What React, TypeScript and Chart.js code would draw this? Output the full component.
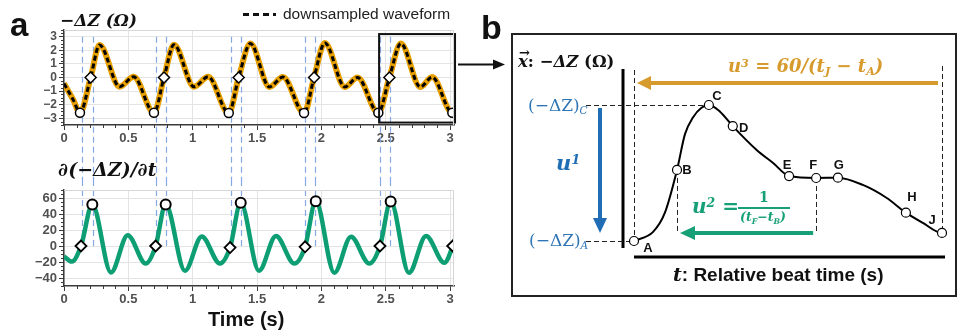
import React, { useEffect, useRef } from 'react';
import { Chart, registerables } from 'chart.js';

Chart.register(...registerables);

// ---------------- data ----------------
const timeTicks = [0, 0.5, 1, 1.5, 2, 2.5, 3];
const zTicks = [-3, -2, -1, 0, 1, 2, 3];
const dzTicks = [-40, -20, 0, 20, 40, 60];

// -ΔZ waveform (Ω)
const zTime = [0, 0.072, 0.124, 0.207, 0.276, 0.432, 0.541, 0.699, 0.777, 0.854, 1.01, 1.12, 1.28, 1.357, 1.448, 1.596, 1.7, 1.865, 1.943, 2.026, 2.182, 2.28, 2.442, 2.528, 2.617, 2.768, 2.86, 3.017, 3.08];
const zValue = [-0.45, -1.65, -2.6, 0, 2.4, -0.68, 0.05, -2.6, 0, 2.42, -0.68, 0.05, -2.62, 0, 2.5, -0.7, 0.03, -2.62, 0, 2.55, -0.7, 0.0, -2.6, 0, 2.5, -0.7, 0.03, -2.6, -1.6];
const zMinTime = [0.124, 0.699, 1.28, 1.865, 2.442, 3.017];
const zMinValue = [-2.6, -2.6, -2.62, -2.62, -2.6, -2.6];
const zSlopeTime = [0.207, 0.777, 1.357, 1.943, 2.528];
const zSlopeValue = [0, 0, 0, 0, 0];

// d(-ΔZ)/dt waveform
const dzTime = [0, 0.06, 0.132, 0.22, 0.365, 0.495, 0.635, 0.712, 0.79, 0.94, 1.07, 1.212, 1.29, 1.373, 1.515, 1.647, 1.79, 1.873, 1.956, 2.1, 2.23, 2.372, 2.455, 2.538, 2.68, 2.813, 2.955, 3.02, 3.08];
const dzValue = [-13, -19.5, 0, 52, -33, 13.5, -22, 0, 52, -31, 12, -22, -2, 54, -31, 12.5, -22, -1, 56, -33.5, 11.5, -22, 0, 55.5, -33.5, 12.5, -21, 0, 30];
const dzZeroTime = [0.132, 0.712, 1.29, 1.873, 2.455, 3.02];
const dzZeroValue = [0, 0, -2, -1, 0, 0];
const dzPeakTime = [0.22, 0.79, 1.373, 1.956, 2.538];
const dzPeakValue = [52, 52, 54, 56, 55.5];

// blue guide lines (beat onset / max slope)
const guideTimeA = [0.142, 0.715, 1.295, 1.875, 2.455];
const guideTimeB = [0.223, 0.793, 1.373, 1.953, 2.533];

// zoomed beat window
const zoomTime = [2.448, 3.038];
const zoomValue = [-3.32, 3.2];

// schematic beat (panel b)
const beatLabels = ['A', 'B', 'C', 'D', 'E', 'F', 'G', 'H', 'J'];
const beatTime = [0, 0.081, 0.141, 0.186, 0.292, 0.343, 0.384, 0.512, 0.58];
const beatValue = [-2.5, 0.06, 2.4, 1.64, -0.16, -0.23, -0.22, -1.48, -2.21];
const beatShapeTime = [0.036, 0.058, 0.096, 0.111, 0.127, 0.162, 0.231, 0.262, 0.431, 0.476, 0.544, 0.599];
const beatShapeValue = [-2.17, -1.49, 1.35, 1.95, 2.3, 2.16, 0.78, 0.31, -0.48, -0.95, -1.85, -2.14];

// ---------------- styles ----------------
const SANS = 'Arial, "Liberation Sans", Helvetica, sans-serif';
const SERIF = '"DejaVu Serif", "Liberation Serif", serif';
const ORANGE = '#E69F00';
const GREEN = '#0E9E74';
const GUIDE = '#86A9E4';
const GOLD = '#D79A2C';
const BLUE = '#1F6EB5';
const BLUE_TEXT = '#2E75B6';
const GREEN2 = '#17A078';
const GRID = '#e4e4e4';
const AXIS = '#3a3a3a';
const TICK_TEXT = '#505050';

const labelOffset: Record<string, [number, number]> = {
  A: [14, 7], B: [10, 0], C: [8, -9], D: [11, 2], E: [-2, -11], F: [-3, -13], G: [1, -12], H: [6, -15], J: [-10, -13],
};

const pts = (xs: number[], ys: number[]) => xs.map((x, i) => ({ x, y: ys[i] }));
const fmt = (v: any) => String(v).replace('-', '\u2212');
const tickFont = (size: number) => ({ family: SANS, weight: 'bold' as const, size });

function xScale(height: number) {
  return {
    type: 'linear' as const,
    min: 0,
    max: 3.03,
    afterBuildTicks: (s: any) => { s.ticks = timeTicks.map((v) => ({ value: v })); },
    afterFit: (s: any) => { s.height = height; },
    ticks: { autoSkip: false, maxRotation: 0, color: TICK_TEXT, font: tickFont(13), padding: 1, callback: (v: any) => fmt(v) },
    grid: { color: GRID, lineWidth: 1, tickLength: 5, tickColor: AXIS, tickWidth: 1 },
    border: { display: true, color: AXIS, width: 1.5 },
  };
}

function yScale(min: number, max: number, ticks: number[], size: number) {
  return {
    type: 'linear' as const,
    min,
    max,
    afterBuildTicks: (s: any) => { s.ticks = ticks.map((v) => ({ value: v })); },
    afterFit: (s: any) => { s.width = 64; },
    ticks: { autoSkip: false, color: TICK_TEXT, font: tickFont(size), padding: 2, callback: (v: any) => fmt(v) },
    grid: { color: GRID, lineWidth: 1, tickLength: 5, tickColor: AXIS, tickWidth: 1 },
    border: { display: true, color: AXIS, width: 1.5 },
  };
}

function drawLine(ctx: CanvasRenderingContext2D, x1: number, y1: number, x2: number, y2: number) {
  ctx.beginPath();
  ctx.moveTo(x1, y1);
  ctx.lineTo(x2, y2);
  ctx.stroke();
}

function drawArrow(ctx: CanvasRenderingContext2D, x1: number, y1: number, x2: number, y2: number, color: string, w: number, headLen: number, headHalf: number) {
  const ang = Math.atan2(y2 - y1, x2 - x1);
  const bx = x2 - headLen * Math.cos(ang);
  const by = y2 - headLen * Math.sin(ang);
  ctx.save();
  ctx.setLineDash([]);
  ctx.strokeStyle = color;
  ctx.lineWidth = w;
  drawLine(ctx, x1, y1, bx, by);
  ctx.fillStyle = color;
  ctx.beginPath();
  ctx.moveTo(x2, y2);
  ctx.lineTo(bx + headHalf * Math.sin(ang), by - headHalf * Math.cos(ang));
  ctx.lineTo(bx - headHalf * Math.sin(ang), by + headHalf * Math.cos(ang));
  ctx.closePath();
  ctx.fill();
  ctx.restore();
}

function frameAndMinor(chart: any, yStep: number, yMajor: number[]) {
  const { ctx, chartArea: a, scales: { x, y } } = chart;
  ctx.save();
  ctx.strokeStyle = '#d6d6d6';
  ctx.lineWidth = 1;
  ctx.beginPath();
  ctx.moveTo(a.left, a.top + 0.5);
  ctx.lineTo(a.right - 0.5, a.top + 0.5);
  ctx.lineTo(a.right - 0.5, a.bottom);
  ctx.stroke();
  ctx.strokeStyle = AXIS;
  ctx.beginPath();
  for (let i = 0; i * 0.1 <= x.max + 1e-9; i++) {
    if (i % 5 === 0) continue;
    const px = Math.round(x.getPixelForValue(i * 0.1)) + 0.5;
    ctx.moveTo(px, a.bottom);
    ctx.lineTo(px, a.bottom + 3);
  }
  const start = Math.ceil(y.min / yStep);
  for (let i = start; i * yStep <= y.max + 1e-9; i++) {
    const v = i * yStep;
    if (yMajor.some((m) => Math.abs(m - v) < 1e-9)) continue;
    const py = Math.round(y.getPixelForValue(v)) + 0.5;
    ctx.moveTo(a.left - 3, py);
    ctx.lineTo(a.left, py);
  }
  ctx.stroke();
  ctx.restore();
}

const topPlugin = {
  id: 'topDeco',
  beforeDatasetsDraw(chart: any) {
    const { ctx, scales: { x, y } } = chart;
    ctx.save();
    ctx.strokeStyle = GUIDE;
    ctx.lineWidth = 1.2;
    ctx.setLineDash([6, 4]);
    [...guideTimeA, ...guideTimeB].forEach((t) => {
      const px = Math.round(x.getPixelForValue(t)) + 0.5;
      drawLine(ctx, px, y.getPixelForValue(3), px, chart.height);
    });
    ctx.restore();
  },
  afterDatasetsDraw(chart: any) {
    const { ctx, chartArea: a, scales: { x, y } } = chart;
    ctx.save();
    ctx.strokeStyle = '#111';
    ctx.lineWidth = 2;
    const x0 = x.getPixelForValue(zoomTime[0]);
    const x1 = x.getPixelForValue(zoomTime[1]);
    const y0 = y.getPixelForValue(zoomValue[1]);
    const y1 = y.getPixelForValue(zoomValue[0]);
    ctx.strokeRect(x0, y0, x1 - x0, y1 - y0);
    ctx.restore();
    drawArrow(ctx, x1 + 3, a.top + 34.5, 505, a.top + 34.5, '#111', 2, 12, 5);
  },
  afterDraw(chart: any) {
    frameAndMinor(chart, 0.25, zTicks);
  },
};

const bottomPlugin = {
  id: 'bottomDeco',
  beforeDatasetsDraw(chart: any) {
    const { ctx, scales: { x, y } } = chart;
    ctx.save();
    ctx.strokeStyle = GUIDE;
    ctx.lineWidth = 1.2;
    ctx.setLineDash([6, 4]);
    [...guideTimeA, ...guideTimeB].forEach((t) => {
      const px = Math.round(x.getPixelForValue(t)) + 0.5;
      drawLine(ctx, px, 0, px, y.getPixelForValue(0));
    });
    ctx.restore();
  },
  afterDraw(chart: any) {
    frameAndMinor(chart, 5, dzTicks);
  },
};

const panelPlugin = {
  id: 'panelDeco',
  beforeDatasetsDraw(chart: any) {
    const { ctx, scales: { x, y } } = chart;
    const P = (i: number) => ({ x: x.getPixelForValue(beatTime[i]), y: y.getPixelForValue(beatValue[i]) });
    const A = P(0), B = P(1), C = P(2), F = P(5), J = P(8);
    ctx.save();
    ctx.strokeStyle = '#000';
    ctx.lineWidth = 3;
    drawLine(ctx, A.x - 11, A.y - 172, A.x - 11, A.y + 7);
    drawLine(ctx, A.x, A.y + 16, J.x + 3, A.y + 16);
    ctx.lineWidth = 1;
    ctx.strokeStyle = '#222';
    ctx.setLineDash([5, 3]);
    drawLine(ctx, Math.round(A.x) + 0.5, A.y - 171, Math.round(A.x) + 0.5, A.y);
    drawLine(ctx, Math.round(J.x) + 0.5, A.y - 175, Math.round(J.x) + 0.5, J.y);
    drawLine(ctx, Math.round(B.x) + 0.5, B.y, Math.round(B.x) + 0.5, A.y - 9);
    drawLine(ctx, Math.round(F.x) + 0.5, F.y, Math.round(F.x) + 0.5, A.y - 9);
    drawLine(ctx, A.x - 48, Math.round(C.y) + 0.5, C.x, Math.round(C.y) + 0.5);
    drawLine(ctx, A.x - 48, Math.round(A.y) + 0.5, A.x, Math.round(A.y) + 0.5);
    ctx.restore();
    drawArrow(ctx, J.x - 4, A.y - 158, A.x + 3, A.y - 158, GOLD, 4, 14, 7);
    drawArrow(ctx, A.x - 34, C.y + 3, A.x - 34, A.y - 8, BLUE, 4, 15, 7);
    drawArrow(ctx, F.x - 3, A.y - 8, B.x + 3, A.y - 8, GREEN2, 4, 15, 7);
  },
  afterDatasetsDraw(chart: any) {
    const { ctx } = chart;
    const meta = chart.getDatasetMeta(1);
    ctx.save();
    ctx.font = `bold 13px ${SANS}`;
    ctx.fillStyle = '#111';
    ctx.textAlign = 'center';
    ctx.textBaseline = 'middle';
    beatLabels.forEach((lab, i) => {
      const el = meta.data[i];
      const [dx, dy] = labelOffset[lab];
      ctx.fillText(lab, el.x + dx, el.y + dy);
    });
    ctx.restore();
  },
};

function topConfig(): any {
  return {
    type: 'line',
    data: {
      datasets: [
        { data: pts(zTime, zValue), borderColor: ORANGE, borderWidth: 6, pointRadius: 0, cubicInterpolationMode: 'monotone', order: 4 },
        { data: pts(zTime, zValue), borderColor: '#000', borderWidth: 3, borderDash: [5, 3], pointRadius: 0, cubicInterpolationMode: 'monotone', order: 3 },
        { data: pts(zMinTime, zMinValue), showLine: false, pointStyle: 'circle', pointRadius: 4.5, pointBackgroundColor: '#fff', pointBorderColor: '#000', pointBorderWidth: 1.5, order: 2 },
        { data: pts(zSlopeTime, zSlopeValue), showLine: false, pointStyle: 'rectRot', pointRadius: 5.5, pointBackgroundColor: '#fff', pointBorderColor: '#000', pointBorderWidth: 1.5, order: 1 },
      ],
    },
    options: {
      responsive: false,
      animation: false,
      layout: { padding: { left: 0, right: 56, top: 30, bottom: 30 } },
      plugins: { legend: { display: false }, tooltip: { enabled: false } },
      scales: { x: xScale(25), y: yScale(-3.5, 3.5, zTicks, 12) },
    },
    plugins: [topPlugin],
  };
}

function bottomConfig(): any {
  return {
    type: 'line',
    data: {
      datasets: [
        { data: pts(dzTime, dzValue), borderColor: GREEN, borderWidth: 4.5, pointRadius: 0, cubicInterpolationMode: 'monotone', order: 3 },
        { data: pts(dzPeakTime, dzPeakValue), showLine: false, pointStyle: 'circle', pointRadius: 5, pointBackgroundColor: '#fff', pointBorderColor: '#000', pointBorderWidth: 2, order: 2 },
        { data: pts(dzZeroTime, dzZeroValue), showLine: false, pointStyle: 'rectRot', pointRadius: 5.5, pointBackgroundColor: '#fff', pointBorderColor: '#000', pointBorderWidth: 1.8, order: 1 },
      ],
    },
    options: {
      responsive: false,
      animation: false,
      layout: { padding: { left: 0, right: 26, top: 10, bottom: 0 } },
      plugins: { legend: { display: false }, tooltip: { enabled: false } },
      scales: { x: xScale(49), y: yScale(-50, 70, dzTicks, 13) },
    },
    plugins: [bottomPlugin],
  };
}

function panelConfig(): any {
  const curve = pts([...beatTime, ...beatShapeTime], [...beatValue, ...beatShapeValue]).sort((p, q) => p.x - q.x);
  return {
    type: 'line',
    data: {
      datasets: [
        { data: curve, borderColor: '#000', borderWidth: 2, pointRadius: 0, cubicInterpolationMode: 'monotone', clip: false, order: 2 },
        { data: pts(beatTime, beatValue), showLine: false, pointRadius: 4.5, pointBackgroundColor: '#fff', pointBorderColor: '#000', pointBorderWidth: 1.2, clip: false, order: 1 },
      ],
    },
    options: {
      responsive: false,
      animation: false,
      layout: { padding: { left: 121, right: 13, top: 70, bottom: 54 } },
      plugins: { legend: { display: false }, tooltip: { enabled: false } },
      scales: {
        x: { type: 'linear', display: false, min: 0, max: 0.58 },
        y: { type: 'linear', display: false, min: -2.5, max: 2.4 },
      },
    },
    plugins: [panelPlugin],
  };
}

type TProps = { x: number; y: number; size: number; children: React.ReactNode; style?: React.CSSProperties };
function T({ x, y, size, children, style }: TProps) {
  return (
    <div style={{ position: 'absolute', left: x, top: y - size * 0.85, fontSize: size, lineHeight: 1, whiteSpace: 'nowrap', ...style }}>
      {children}
    </div>
  );
}

const sup = (s: string) => <span style={{ position: 'relative', top: '-0.45em', fontSize: '0.62em' }}>{s}</span>;
const sub = (s: string, extra?: React.CSSProperties) => <span style={{ position: 'relative', top: '0.3em', fontSize: '0.62em', ...extra }}>{s}</span>;

const serifBI: React.CSSProperties = { fontFamily: SERIF, fontWeight: 'bold', fontStyle: 'italic' };

export default function App() {
  const topRef = useRef<HTMLCanvasElement>(null);
  const botRef = useRef<HTMLCanvasElement>(null);
  const panelRef = useRef<HTMLCanvasElement>(null);

  useEffect(() => {
    const charts = [
      new Chart(botRef.current as HTMLCanvasElement, bottomConfig()),
      new Chart(topRef.current as HTMLCanvasElement, topConfig()),
      new Chart(panelRef.current as HTMLCanvasElement, panelConfig()),
    ];
    return () => charts.forEach((c) => c.destroy());
  }, []);

  return (
    <div style={{ position: 'fixed', left: 0, top: 0, width: 958, height: 335, background: '#fff', overflow: 'hidden', fontFamily: SANS, color: '#111' }}>
      <canvas ref={botRef} width={480} height={155} style={{ position: 'absolute', left: 0, top: 180, width: 480, height: 155 }} />
      <canvas ref={topRef} width={510} height={180} style={{ position: 'absolute', left: 0, top: 0, width: 510, height: 180 }} />
      <div style={{ position: 'absolute', left: 511, top: 33, width: 446, height: 264, border: '2px solid #222', boxSizing: 'border-box' }} />
      <canvas ref={panelRef} width={442} height={260} style={{ position: 'absolute', left: 513, top: 35, width: 442, height: 260 }} />

      {/* panel letters */}
      <T x={10} y={36} size={33} style={{ fontWeight: 'bold' }}>a</T>
      <T x={481} y={39} size={34} style={{ fontWeight: 'bold' }}>b</T>

      {/* panel a titles */}
      <T x={60} y={26} size={17} style={serifBI}>−ΔZ (Ω)</T>
      <T x={58} y={176} size={19} style={serifBI}>∂(−ΔZ)/∂t</T>

      {/* legend */}
      <div style={{ position: 'absolute', left: 243, top: 12.5, width: 33, height: 3, background: 'repeating-linear-gradient(90deg, #111 0 6px, transparent 6px 10px)' }} />
      <T x={283} y={19.5} size={15.5} style={{ color: '#222' }}>downsampled waveform</T>

      <T x={208} y={326} size={20} style={{ fontWeight: 'bold' }}>Time (s)</T>

      {/* panel b texts */}
      <T x={518} y={68} size={16.5} style={{ fontFamily: SERIF, fontWeight: 'bold' }}>
        <span style={{ position: 'relative', fontStyle: 'italic' }}>
          x
          <span style={{ position: 'absolute', left: 1, top: '-0.42em', fontSize: '0.8em', fontStyle: 'normal' }}>→</span>
        </span>
        : <span style={{ fontStyle: 'italic' }}>−ΔZ</span> (Ω)
      </T>

      <T x={728} y={72} size={18} style={{ ...serifBI, color: GOLD }}>
        u{sup('3')} = 60/(t{sub('J')} − t{sub('A')})
      </T>

      <T x={528} y={111} size={17} style={{ fontFamily: SERIF, color: BLUE_TEXT }}>
        (−ΔZ){sub('C', { fontStyle: 'italic' })}
      </T>
      <T x={529} y={246} size={17} style={{ fontFamily: SERIF, color: BLUE_TEXT }}>
        (−ΔZ){sub('A', { fontStyle: 'italic' })}
      </T>
      <T x={556} y={170} size={21} style={{ ...serifBI, color: BLUE }}>
        u{sup('1')}
      </T>

      <T x={692} y={213} size={20} style={{ ...serifBI, color: GREEN2 }}>
        u{sup('2')} =
      </T>
      <T x={759} y={202} size={14} style={{ fontFamily: SERIF, fontWeight: 'bold', color: GREEN2 }}>1</T>
      <div style={{ position: 'absolute', left: 738, top: 207, width: 52, height: 1.5, background: GREEN2 }} />
      <T x={740} y={222} size={12.5} style={{ ...serifBI, color: GREEN2 }}>
        (t{sub('F')}−t{sub('B')})
      </T>

      <T x={673} y={281} size={19} style={{ fontWeight: 'bold' }}>
        <span style={{ fontFamily: SERIF, fontStyle: 'italic' }}>t</span>: Relative beat time (s)
      </T>
    </div>
  );
}
